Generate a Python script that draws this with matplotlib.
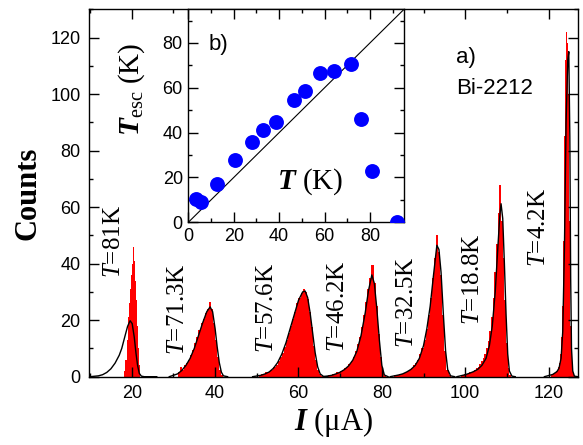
import matplotlib
matplotlib.use("Agg")
import matplotlib.pyplot as plt
import numpy as np
from matplotlib.ticker import MultipleLocator

plt.rcParams["font.family"] = ["Liberation Sans", "DejaVu Sans"]
plt.rcParams["mathtext.fontset"] = "custom"
plt.rcParams["mathtext.rm"] = "Liberation Serif"
plt.rcParams["mathtext.it"] = "Liberation Serif:italic"
plt.rcParams["mathtext.bf"] = "Liberation Serif:bold:italic"

# switching-current histograms (red): first bin edge, bin width, counts
hist_start_81K, hist_width_81K = 18.25, 0.25
hist_81K = [2, 6, 13, 21, 26, 31, 36, 40, 46, 41, 34, 27, 18, 10, 4]
hist_start_71K, hist_width_71K = 31.0, 0.5
hist_71K = [1.5, 3.5, 2.5, 4, 5, 6, 7.5, 9.5, 12, 14, 16.5, 19, 20.5, 22.5,
            24, 26.5, 24, 19, 13, 7, 2.5, 0.5]
hist_start_58K, hist_width_58K = 50.5, 0.5
hist_58K = [0.5, 0.8, 1, 1.8, 1.5, 2, 2.5, 3.5, 4, 5.5, 7, 8.5, 10.5, 13, 15.5,
            18, 20.5, 23, 26, 28, 29.5, 31, 30, 27.5, 23, 17.5, 11, 6, 2.5, 1, 0.3]
hist_start_46K, hist_width_46K = 67.0, 0.5
hist_46K = [0.5, 0.5, 0.8, 1, 1.5, 1.2, 2, 2.5, 3, 3.5, 4.5, 5.5, 7, 9, 11.5,
            14, 17.5, 22, 26.5, 31, 35, 39.5, 33, 25, 15, 7, 2, 0.3]
hist_start_33K, hist_width_33K = 83.0, 0.5
hist_33K = [0.5, 0.5, 0.8, 1, 1.3, 1.8, 2, 2.5, 3, 4, 5, 6, 8, 10, 13, 17, 22,
            28, 35, 42, 50, 44, 36, 22, 9, 2.5, 0.5]
hist_start_19K, hist_width_19K = 99.0, 0.4
hist_19K = [0.5, 0.5, 0.8, 1, 1.2, 1.5, 1.8, 2, 2.5, 3, 3.5, 4.5, 5.5, 6.5, 8,
            10, 12.5, 16, 21, 28, 37, 47, 58, 68, 55, 42, 27, 12, 3, 0.5]
hist_start_4K, hist_width_4K = 120.5, 0.25
hist_4K = [0.5, 0.7, 1, 1.2, 1.5, 2, 2.5, 3.5, 5, 8, 14, 25, 48, 85, 112, 122,
           118, 100, 55, 18, 4, 1, 0.3]

# escape-model fits (black lines)
fit_I_81K = [10, 12, 13, 14, 15, 16, 17, 17.6, 18.4, 19.0, 19.6, 20.1, 20.6,
             21.0, 21.4, 21.8, 22.3, 23, 26]
fit_81K = [0, 0.3, 0.7, 1.5, 2.8, 4.8, 7.6, 10, 14.5, 17.8, 19.8, 18.8, 14,
           8.5, 4, 1.2, 0.2, 0, 0]
fit_I_71K = [29, 31, 32, 33, 34, 35, 36, 37, 38, 38.8, 39.4, 40, 40.5, 41,
             41.5, 42, 43]
fit_71K = [0, 1, 2.2, 4, 6.5, 10, 14.5, 19, 23, 24.7, 23, 17, 10.5, 5, 1.6,
           0.3, 0]
fit_I_58K = [49, 51, 52, 53, 54, 55, 56, 57, 58, 59, 60, 61, 61.6, 62.2, 62.8,
             63.4, 64, 64.6, 65.2, 66, 67]
fit_58K = [0, 0.5, 1, 1.7, 3, 5, 8, 12, 17, 22, 27, 30, 30.3, 28, 22.5, 15.5,
           8.5, 3.5, 1, 0.1, 0]
fit_I_46K = [66, 68, 69, 70, 71, 72, 73, 74, 75, 76, 76.8, 77.6, 78.2, 78.8,
             79.4, 80, 80.6, 81.5]
fit_46K = [0, 0.5, 1, 1.6, 2.5, 3.8, 5.8, 9, 14.5, 22.5, 30.5, 36, 33, 24, 13,
           4, 0.6, 0]
fit_I_33K = [82, 84, 85, 86, 87, 88, 89, 90, 90.8, 91.6, 92.4, 93.2, 93.7,
             94.2, 94.8, 95.3, 95.8, 96.5, 97.5]
fit_33K = [0, 0.6, 1, 1.7, 2.6, 4, 6.5, 11, 17, 25, 36, 46.5, 45, 37, 21, 9,
           2.5, 0.3, 0]
fit_I_19K = [98, 100, 101, 102, 103, 104, 105, 105.8, 106.5, 107.2, 107.8,
             108.3, 108.6, 109, 109.4, 109.8, 110.2, 110.6, 111.2, 112]
fit_19K = [0, 0.7, 1.2, 1.8, 2.6, 4, 6.5, 11, 18, 30, 45, 57, 61.2, 56, 40, 22,
           8, 2, 0.2, 0]
fit_I_4K = [119, 121, 122, 122.5, 123, 123.4, 123.8, 124.2, 124.6, 124.85,
            125.1, 125.3, 125.5, 125.8, 126.2, 127]
fit_4K = [0, 0.8, 1.8, 3, 6.5, 16, 45, 90, 112, 115, 85, 35, 10, 2, 0.2, 0]

peak_labels = ["81K", "71.3K", "57.6K", "46.2K", "32.5K", "18.8K", "4.2K"]

# inset b): escape temperature vs bath temperature
T_bath = [3.5, 5.5, 12.6, 20.6, 28.0, 32.9, 38.6, 46.7, 51.6, 58.2, 64.1,
          71.8, 75.9, 80.8, 91.7]
T_esc = [10.5, 9.0, 16.9, 27.7, 35.6, 41.0, 44.7, 54.7, 58.4, 66.5, 67.7,
         70.7, 45.9, 22.8, 0.3]

serif = "Liberation Serif"

fig = plt.figure(figsize=(5.83, 4.45), dpi=100)
ax = fig.add_axes([0.1527, 0.1535, 0.8383, 0.8256])

histograms = [
    (hist_start_81K, hist_width_81K, hist_81K),
    (hist_start_71K, hist_width_71K, hist_71K),
    (hist_start_58K, hist_width_58K, hist_58K),
    (hist_start_46K, hist_width_46K, hist_46K),
    (hist_start_33K, hist_width_33K, hist_33K),
    (hist_start_19K, hist_width_19K, hist_19K),
    (hist_start_4K, hist_width_4K, hist_4K),
]
for start, width, counts in histograms:
    edges = start + width * np.arange(len(counts) + 1)
    ax.stairs(counts, edges, fill=True, color="#FF0000", linewidth=0)

fits = [
    (fit_I_81K, fit_81K), (fit_I_71K, fit_71K), (fit_I_58K, fit_58K),
    (fit_I_46K, fit_46K), (fit_I_33K, fit_33K), (fit_I_19K, fit_19K),
    (fit_I_4K, fit_4K),
]
for currents, values in fits:
    ax.plot(currents, values, color="black", linewidth=1.0)

# rotated temperature labels (x centre, bottom in counts)
label_pos = [(15.7, 35.0), (31.0, 7.6), (52.5, 8.4), (69.6, 8.7),
             (86.0, 10.1), (101.8, 18.2), (117.8, 38.7)]
for text, (x, y) in zip(peak_labels, label_pos):
    ax.text(x, y, r"$\mathit{T}$=" + text, rotation=90, ha="center",
            va="bottom", fontsize=18, family=serif)

ax.text(97.8, 113, "a)", fontsize=16, ha="left", va="center")
ax.text(97.8, 102, "Bi-2212", fontsize=16, ha="left", va="center")

ax.set_xlim(9.75, 127.0)
ax.set_ylim(0, 130)
ax.xaxis.set_major_locator(MultipleLocator(20))
ax.xaxis.set_minor_locator(MultipleLocator(10))
ax.yaxis.set_major_locator(MultipleLocator(20))
ax.yaxis.set_minor_locator(MultipleLocator(10))
ax.tick_params(which="both", direction="in", top=True, right=True,
               labelsize=13, width=1.0)
ax.tick_params(which="major", length=7, pad=6)
ax.tick_params(which="minor", length=3)
for spine in ax.spines.values():
    spine.set_linewidth(1.0)
ax.set_xlabel(r"$\mathbf{I}$ (μA)", fontsize=22, family=serif, labelpad=2)
ax.set_ylabel("Counts", fontsize=22, family=serif, fontweight="bold",
              labelpad=6)

# inset
ins = fig.add_axes([0.323, 0.5004, 0.370, 0.4787])
ins.plot([0, 100], [0, 100], color="black", linewidth=0.8)
ins.scatter(T_bath, T_esc, s=115, color="#0000FF", zorder=3, linewidths=0)
ins.set_xlim(0, 95)
ins.set_ylim(0, 95)
ins.xaxis.set_major_locator(MultipleLocator(20))
ins.xaxis.set_minor_locator(MultipleLocator(10))
ins.yaxis.set_major_locator(MultipleLocator(20))
ins.yaxis.set_minor_locator(MultipleLocator(10))
ins.tick_params(which="both", direction="in", top=True, right=True,
                labelsize=13, width=1.0)
ins.tick_params(which="major", length=7, pad=4)
ins.tick_params(which="minor", length=3)
for spine in ins.spines.values():
    spine.set_linewidth(1.0)
ins.text(8.7, 79.5, "b)", fontsize=16, ha="left", va="center")
ins.text(39.0, 18.3, r"$\mathbf{T}$ (K)", fontsize=21, family=serif,
         ha="left", va="center")
ins.text(-25.0, 59.5, r"$\mathbf{T}_{\mathrm{esc}}$ (K)", fontsize=21,
         family=serif, rotation=90, ha="center", va="center")

fig.savefig("out.png", dpi=100, facecolor="white")
